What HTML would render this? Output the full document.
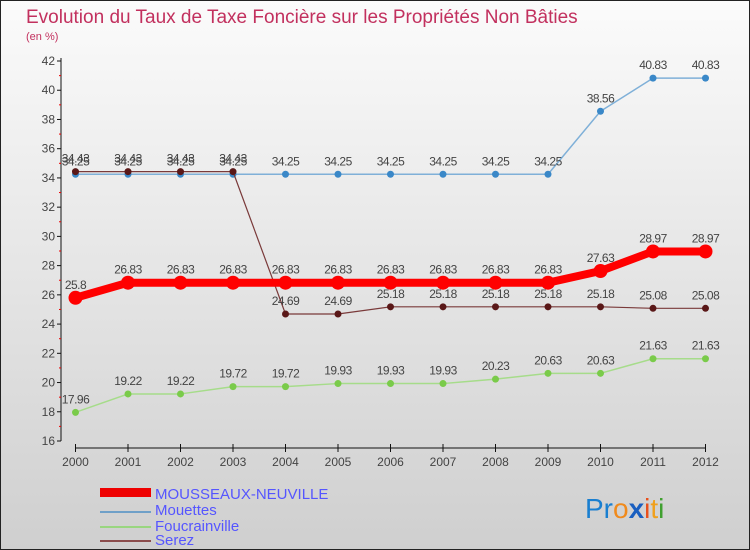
<!DOCTYPE html>
<html><head><meta charset="utf-8"><style>
body{margin:0;width:750px;height:550px;overflow:hidden;font-family:"Liberation Sans",sans-serif}
svg{display:block}
</style></head><body>
<svg id="chart" width="750" height="550">
<defs><linearGradient id="bg" x1="0" y1="0" x2="0" y2="1"><stop offset="0" stop-color="#fbfbfb"/><stop offset="1" stop-color="#cfcfcf"/></linearGradient></defs>
<rect x="0.5" y="0.5" width="749" height="549" fill="url(#bg)" stroke="#222"/>
<text x="26" y="23" font-size="19" fill="#c2305e">Evolution du Taux de Taxe Foncière sur les Propriétés Non Bâties</text>
<text x="26" y="40" font-size="11" fill="#c2305e">(en %)</text>
<g id="axes"></g><g id="series"></g>
<g>
<rect x="100" y="488" width="51" height="9" fill="#e00"/>
<text x="155" y="499" font-size="15" fill="#5555ff">MOUSSEAUX-NEUVILLE</text>
<line x1="100" y1="512" x2="151" y2="512" stroke="#6fa0c8" stroke-width="2"/>
<text x="155" y="515" font-size="15" fill="#5555ff">Mouettes</text>
<line x1="100" y1="527" x2="151" y2="527" stroke="#99d680" stroke-width="2"/>
<text x="155" y="531" font-size="15" fill="#5555ff">Foucrainville</text>
<line x1="100" y1="541" x2="151" y2="541" stroke="#8a4c4c" stroke-width="2"/>
<text x="155" y="545" font-size="15" fill="#5555ff">Serez</text>
</g>
<text x="585" y="518" font-size="28"><tspan fill="#1a7fd0">Pr</tspan><tspan fill="#f08a1c">o</tspan><tspan fill="#1a5fc0" font-weight="bold">x</tspan><tspan fill="#e8501c">i</tspan><tspan fill="#f0a01c">t</tspan><tspan fill="#40a030">i</tspan></text>
</svg>
<script>
const years=[2000,2001,2002,2003,2004,2005,2006,2007,2008,2009,2010,2011,2012];
const yTicks=[16,18,20,22,24,26,28,30,32,34,36,38,40,42];
const mousseaux=[25.8,26.83,26.83,26.83,26.83,26.83,26.83,26.83,26.83,26.83,27.63,28.97,28.97];
const mouettes=[34.25,34.25,34.25,34.25,34.25,34.25,34.25,34.25,34.25,34.25,38.56,40.83,40.83];
const foucrainville=[17.96,19.22,19.22,19.72,19.72,19.93,19.93,19.93,20.23,20.63,20.63,21.63,21.63];
const serez=[34.43,34.43,34.43,34.43,24.69,24.69,25.18,25.18,25.18,25.18,25.18,25.08,25.08];
const NS="http://www.w3.org/2000/svg";
const xS=i=>75.5+i*52.5;
const yS=v=>441-(v-16)*(380/26);
function mk(tag,attrs,parent){const e=document.createElementNS(NS,tag);for(const k in attrs)e.setAttribute(k,attrs[k]);parent.appendChild(e);return e;}
const axes=document.getElementById('axes');
let a=mk('line',{x1:61,y1:58,x2:61,y2:441,stroke:'#111'},axes);


yTicks.forEach((t,k)=>{
 mk('line',{x1:57,x2:61,y1:yS(t),y2:yS(t),stroke:'#111'},axes);
 if(k<yTicks.length-1) mk('line',{x1:59,x2:61,y1:yS(t+1),y2:yS(t+1),stroke:'#e00'},axes);
 const tx=mk('text',{x:55,y:yS(t)+4,'text-anchor':'end','font-size':12,fill:'#444'},axes);
 tx.textContent=t;
 
 
});
a=mk('line',{x1:xS(0),y1:448,x2:xS(12),y2:448,stroke:'#111'},axes);


years.forEach((y,i)=>{
 mk('line',{x1:xS(i),x2:xS(i),y1:444,y2:452,stroke:'#111'},axes);
 const tx=mk('text',{x:xS(i),y:466,'text-anchor':'middle','font-size':12,fill:'#444'},axes);
 tx.textContent=y;
 
 
});
const sg=document.getElementById('series');
function draw(vals,name,color,w,r,dot){
 const g=mk('g',{},sg);
 
 
 const p=mk('polyline',{points:vals.map((v,i)=>xS(i)+','+yS(v)).join(' '),fill:'none',stroke:color,'stroke-width':w,'stroke-linejoin':'round'},g);
 
 
 vals.forEach((v,i)=>{
  const c=mk('circle',{cx:xS(i),cy:yS(v),r:r,fill:dot},g);
  
  
  const t=mk('text',{x:xS(i),y:yS(v)-9,'text-anchor':'middle','font-size':12,fill:'#444','letter-spacing':'-0.5'},g);
  t.textContent=v;
  
  
 });
}
draw(foucrainville,'foucrainville','#a6dc8a',1.5,3.5,'#7acb4a');
draw(mouettes,'mouettes','#7fb0d8',1.5,3.5,'#3a88c8');
draw(serez,'serez','#7a3a3a',1.2,3.5,'#5a1818');
draw(mousseaux,'mousseaux','#f00',8,7,'#f00');
</script>
</body></html>
